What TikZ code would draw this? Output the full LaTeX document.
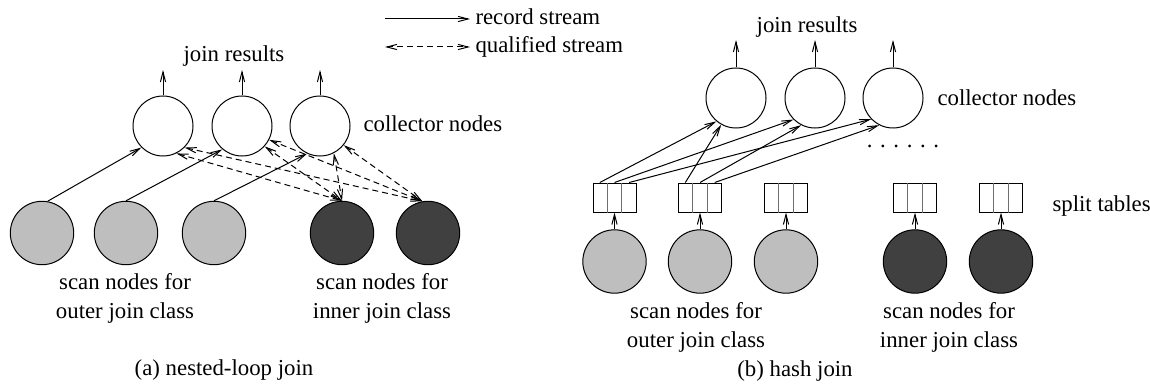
\documentclass[tikz,border=0pt]{standalone}
\usepackage{fontspec}
\setmainfont{Liberation Serif}
\usetikzlibrary{arrows.meta,calc}
\definecolor{scanlight}{RGB}{190,190,190}
\definecolor{scandark}{RGB}{64,64,64}
\definecolor{cellgray}{RGB}{110,110,110}

\begin{document}
\begin{tikzpicture}[x=0.5pt,y=-0.5pt,line width=0.5pt,font=\fontsize{11.4}{14.5}\selectfont,
    rec/.style={-{Straight Barb[length=5pt,width=2.6pt]}},
    qual/.style={{Straight Barb[length=5pt,width=2.6pt]}-{Straight Barb[length=5pt,width=2.6pt]},dash pattern=on 3pt off 2pt},
    coll/.style={circle,draw,minimum size=30pt,inner sep=0pt},
    scanout/.style={circle,draw,fill=scanlight,minimum size=31.7pt,inner sep=0pt},
    scanin/.style={circle,draw,fill=scandark,minimum size=31.7pt,inner sep=0pt},
    splittab/.style={draw,minimum width=21.5pt,minimum height=14.5pt,inner sep=0pt},
    lbl/.style={inner sep=0pt,anchor=base},
    lblw/.style={inner sep=0pt,anchor=base west},
    twoline/.style={inner sep=0pt,anchor=base,align=center}]
    \useasboundingbox (0,0) rectangle (1150,385);
    % legend
    \coordinate (lr1) at (385,19);\coordinate (lr2) at (470,19);\draw[rec] (lr1) -- (lr2);\node[lblw] (lrtxt) at (475,25) {record stream};
    \coordinate (lq1) at (385,47);\coordinate (lq2) at (470,47);\draw[qual] (lq1) -- (lq2);\node[lblw] (lqtxt) at (475,53) {qualified stream};
    % (a) nested-loop join
    \node[coll] (ca1) at (163,126) {};\node[coll] (ca2) at (242,126) {};\node[coll] (ca3) at (320,126) {};
    \coordinate (oa1) at (163,70);\coordinate (oa2) at (242,70);\coordinate (oa3) at (320,70);
    \foreach \i in {1,2,3} \draw[rec] (ca\i) -- (oa\i);
    \node[lbl] (resa) at (234,62) {join results};
    \node[lblw] (colla) at (363,132) {collector nodes};
    \node[scanout] (sa1) at (42,233) {};\node[scanout] (sa2) at (126,233) {};\node[scanout] (sa3) at (214,233) {};
    \node[scanin] (sa4) at (342,233) {};\node[scanin] (sa5) at (428,233) {};
    \draw[rec] (sa1.80) -- (ca1.225);\draw[rec] (sa2.north) -- (ca2.230);\draw[rec] (sa3.north) -- (ca3.245);
    \draw[qual] (ca1.296) -- (sa4.north);\draw[qual] (ca1.315) -- (sa5.100);
    \draw[qual] (ca2.318) -- (sa4.north);\draw[qual] (ca2.333) -- (sa5.100);
    \draw[qual] (ca3.297) -- (sa4.north);\draw[qual] (ca3.321) -- (sa5.100);
    \node[twoline] (outa) at (125,318) {scan nodes for\\outer join class};
    \node[twoline] (ina) at (382,318) {scan nodes for\\inner join class};
    \node[lbl] (capa) at (224,375) {(a) nested-loop join};
    % (b) hash join
    \node[coll] (cb1) at (736,98) {};\node[coll] (cb2) at (815,98) {};\node[coll] (cb3) at (893,98) {};
    \coordinate (ob1) at (736,40);\coordinate (ob2) at (815,40);\coordinate (ob3) at (893,40);
    \foreach \i in {1,2,3} \draw[rec] (cb\i) -- (ob\i);
    \node[lbl] (resb) at (807,33) {join results};
    \node[lblw] (collb) at (937,105) {collector nodes};
    \node[lbl] (more) at (903,148) {. . . . . .};
    \node[splittab] (tb1) at (614.5,197.5) {};\node[splittab] (tb2) at (700,197.5) {};\node[splittab] (tb3) at (786,197.5) {};
    \node[splittab] (tb4) at (915,197.5) {};\node[splittab] (tb5) at (1001,197.5) {};
    \foreach \t in {tb1,tb2,tb3,tb4,tb5} {
      \draw[cellgray] ($(\t.north west)!1/3!(\t.north east)$) -- ($(\t.south west)!1/3!(\t.south east)$);
      \draw[cellgray] ($(\t.north west)!2/3!(\t.north east)$) -- ($(\t.south west)!2/3!(\t.south east)$);
    }
    \node[lblw] (splitb) at (1052,211) {split tables};
    \node[scanout] (sb1) at (614.5,261.5) {};\node[scanout] (sb2) at (700,261.5) {};\node[scanout] (sb3) at (786,261.5) {};
    \node[scanin] (sb4) at (915,261.5) {};\node[scanin] (sb5) at (1001,261.5) {};
    \foreach \i in {1,...,5} \draw[rec] (sb\i) -- (tb\i);
    \draw[rec] ($(tb1.north west)!1/6!(tb1.north east)$) -- (cb1.230);
    \draw[rec] ($(tb1.north west)!1/2!(tb1.north east)$) -- (cb2.225);
    \draw[rec] ($(tb1.north west)!5/6!(tb1.north east)$) -- (cb3.224);
    \draw[rec] ($(tb2.north west)!1/6!(tb2.north east)$) -- (cb1.241);
    \draw[rec] ($(tb2.north west)!1/2!(tb2.north east)$) -- (cb2.243);
    \draw[rec] ($(tb2.north west)!5/6!(tb2.north east)$) -- (cb3.243);
    \node[twoline] (outb) at (696,347) {scan nodes for\\outer join class};
    \node[twoline] (inb) at (949,347) {scan nodes for\\inner join class};
    \node[lbl] (capb) at (795,376) {(b) hash join};
  \end{tikzpicture}
\end{document}
